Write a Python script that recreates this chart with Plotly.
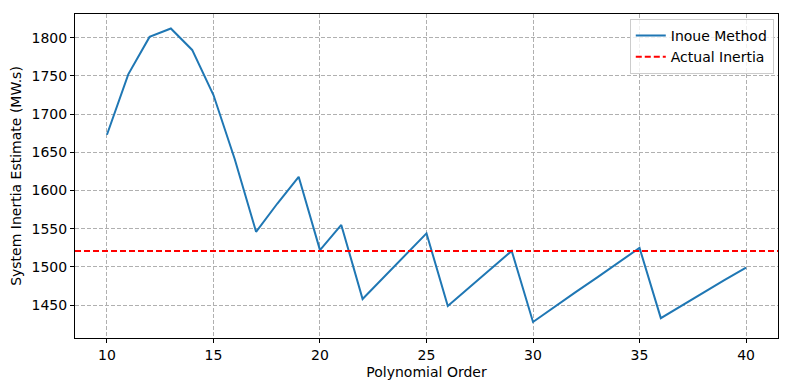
import plotly.graph_objects as go

orders = list(range(10, 41))
inoue = [1673, 1752, 1801, 1812, 1784, 1725, 1641, 1546, 1583, 1618,
         1522, 1555, 1458, 1487, 1516, 1544, 1449, 1473, 1497, 1521,
         1428, 1448, 1467, 1486, 1505, 1525, 1433, 1450, 1467, 1483, 1499]
actual_inertia = 1521
x_ticks = [10, 15, 20, 25, 30, 35, 40]
y_ticks = [1450, 1500, 1550, 1600, 1650, 1700, 1750, 1800]

fig = go.Figure()
fig.add_trace(go.Scatter(x=orders, y=inoue, mode="lines", name="Inoue Method",
                         line=dict(color="#1f77b4", width=2)))
fig.add_trace(go.Scatter(x=[8.5, 41.5], y=[actual_inertia, actual_inertia], mode="lines",
                         name="Actual Inertia",
                         line=dict(color="red", width=2, dash="6px,3px")))

axis_common = dict(showline=True, linecolor="black", linewidth=1, mirror=True,
                   ticks="outside", ticklen=4, tickcolor="black", automargin=False,
                   showgrid=True, gridcolor="#b0b0b0", griddash="4px,2px", gridwidth=1,
                   zeroline=False, tickfont=dict(size=14, color="black"))
fig.update_xaxes(range=[8.5, 41.5], tickvals=x_ticks,
                 title=dict(text="Polynomial Order", font=dict(size=14, color="black"), standoff=5),
                 **axis_common)
fig.update_yaxes(range=[1407, 1831], tickvals=y_ticks,
                 title=dict(text="System Inertia Estimate (MW.s)", font=dict(size=14, color="black"), standoff=6),
                 **axis_common)
fig.update_layout(width=790, height=390, margin=dict(l=75, r=12, t=14, b=52),
                  plot_bgcolor="white", paper_bgcolor="white",
                  font=dict(family="DejaVu Sans", size=14, color="black"),
                  legend=dict(x=0.994, y=0.985, xanchor="right", yanchor="top", itemwidth=30,
                              bgcolor="rgba(255,255,255,0.8)", bordercolor="#cccccc", borderwidth=1,
                              font=dict(size=14)))
fig.write_html("out.html", config={"displayModeBar": False},
               post_script="document.body.style.margin='0';document.body.style.padding='0';document.body.style.overflow='hidden';")
